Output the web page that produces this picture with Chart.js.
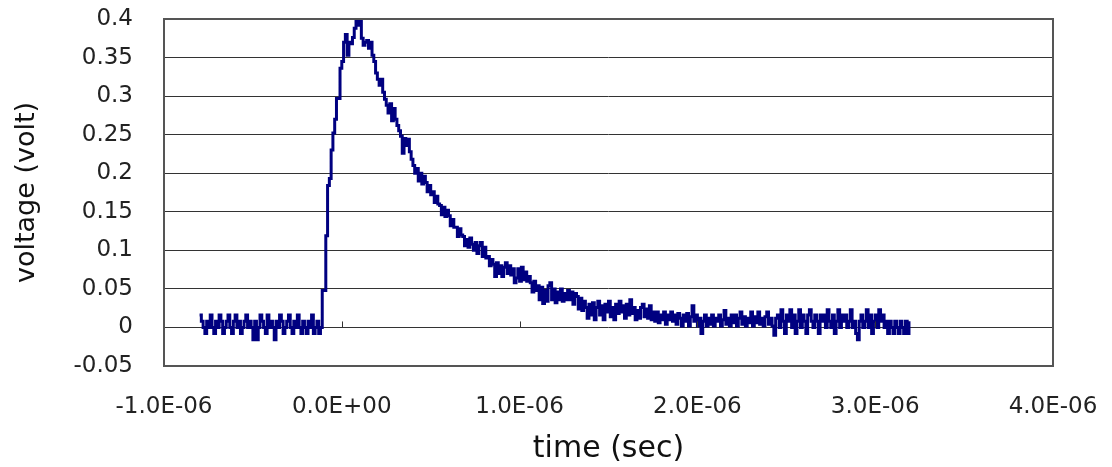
<!DOCTYPE html>
<html>
<head>
<meta charset="utf-8">
<script src="https://cdn.jsdelivr.net/npm/chart.js@4"></script>
<style>
  html, body { margin: 0; padding: 0; background: #fff; }
  canvas { display: block; }
</style>
</head>
<body>
<canvas id="myChart" width="1112" height="467"></canvas>
<script>
// sampling clock of the scope trace
const t0 = -0.8e-6;
const dt = 1e-8;

// voltage samples (volt)
const baseline = [
  0.016, 0.008, 0, -0.008, 0.008, 0, 0.016, 0, -0.008, 0.008,
  0, 0.016, 0.008, -0.008, 0, 0.008, 0.016, 0, -0.008, 0.008,
  0.016, 0, 0.008, -0.008, 0, 0.008, 0.016, 0, 0.008, 0,
  -0.016, 0.008, -0.016, 0, 0.016, 0.008, 0, -0.008, 0.016, 0,
  0.008, 0, -0.016, 0.008, 0, 0.016, 0.008, -0.008, 0, 0.008,
  0.016, 0, -0.008, 0.008, 0, 0.016, 0, -0.008, 0.008, 0,
  -0.008, 0.008, 0, 0.016, -0.008, 0, 0.008, -0.008, 0
];
const pulse = [
  0.048, 0.048, 0.119, 0.184, 0.193, 0.23, 0.252, 0.27, 0.297, 0.297,
  0.336, 0.345, 0.37, 0.38, 0.353, 0.37, 0.368, 0.376, 0.388, 0.4,
  0.392, 0.4, 0.375, 0.366, 0.37,
  0.372, 0.362, 0.37, 0.353, 0.345, 0.33, 0.322, 0.314,
  0.322, 0.305, 0.296, 0.288, 0.278, 0.29,
  0.268, 0.284, 0.27, 0.262, 0.255, 0.248,
  0.226, 0.245, 0.236, 0.244, 0.228, 0.218,
  0.21, 0.2, 0.206, 0.19, 0.2, 0.186, 0.196,
  0.188, 0.176, 0.184, 0.172, 0.176, 0.162, 0.17, 0.16,
  0.158, 0.146, 0.156, 0.144, 0.152, 0.145, 0.132, 0.14, 0.13,
  0.13, 0.118, 0.128, 0.12, 0.118, 0.106, 0.114, 0.104, 0.116, 0.108,
  0.1, 0.11
];
const decay = [
  0.096, 0.106, 0.11, 0.092, 0.104, 0.09, 0.092, 0.08, 0.088,
  0.082, 0.066, 0.084, 0.07, 0.08, 0.066, 0.078, 0.084, 0.07, 0.08, 0.068, 0.076,
  0.058, 0.064, 0.076, 0.06, 0.078, 0.062, 0.072, 0.06, 0.066,
  0.058, 0.046, 0.06, 0.048, 0.054,
  0.036, 0.052, 0.031, 0.048, 0.034, 0.054, 0.058, 0.036, 0.05, 0.032,
  0.046, 0.036, 0.05, 0.034, 0.044, 0.036, 0.048,
  0.036, 0.046, 0.03, 0.044, 0.04, 0.024, 0.038, 0.022, 0.034, 0.026,
  0.012, 0.03, 0.016, 0.032, 0.01, 0.026, 0.034, 0.016, 0.028, 0.01,
  0.03, 0.02, 0.034, 0.014, 0.026, 0.01, 0.03, 0.018, 0.034, 0.02,
  0.028, 0.012, 0.03, 0.016, 0.036, 0.018, 0.026, 0.01, 0.022
];
const tail = [
  0.012, 0.026, 0.03, 0.014, 0.024, 0.012, 0.028, 0.01, 0.02, 0.008,
  0.02, 0.006, 0.016, 0.01, 0.02, 0.004, 0.016, 0.01, 0.02, 0.008,
  0.016, 0.004, 0.018, 0.012, 0.002, 0.016, 0.008, 0.018, 0.002, 0.014,
  0.028, 0.008, 0.016, 0.002, 0.012, -0.008, 0.008, 0.016, 0.002, 0.012,
  0.004, 0.016, 0.002, 0.012, 0.008, 0.016, 0.002, 0.01, 0.022, 0.004,
  0.012, 0.002, 0.016, 0.006, 0.016, 0.002, 0.012, 0.02, 0.004, 0.014,
  0.002, 0.012, 0.006, 0.02, 0.002, 0.014, 0.006, 0.02, 0.004, 0.012,
  0.002, 0.014, 0.02, 0.004, 0.012, 0.002, -0.01, 0.012,
  0.016, 0, 0.023, 0.008, -0.008, 0.016, 0.008, 0.023, 0, 0.016,
  -0.008, 0.008, 0.023, 0, 0.016, 0.008, -0.008, 0.016, 0.023, 0.008,
  0, 0.016, 0.008, -0.008, 0.016, 0.008, 0.016, 0, 0.023, 0.008,
  0, 0.016, -0.008, 0.008, 0.023, 0, 0.016, 0.008, 0.016, 0,
  0.008, 0.023, 0, 0.008, -0.008, -0.016, 0.008, 0.016, 0, 0.008,
  0.023, 0, 0.016, -0.008, 0.008, 0.016, 0, 0.023, 0.008, 0.016,
  0, 0.008, -0.008, 0.008, 0, -0.008, 0.008, 0, -0.008, 0.008,
  0, -0.008, 0.008, -0.008, 0.008
];

// axis ticks
const xTicks = [-1e-6, 0, 1e-6, 2e-6, 3e-6, 4e-6];
const yTicks = [-0.05, 0, 0.05, 0.1, 0.15, 0.2, 0.25, 0.3, 0.35, 0.4];
const xTitle = 'time (sec)';
const yTitle = 'voltage (volt)';

const volts = baseline.concat(pulse, decay, tail);
const points = volts.map((v, i) => ({ x: t0 + i * dt, y: v }));

function sci(v) {
  if (Math.abs(v) < 1e-12) return '0.0E+00';
  const parts = v.toExponential(1).split('e');
  const e = parseInt(parts[1], 10);
  const es = (e < 0 ? '-' : '+') + String(Math.abs(e)).padStart(2, '0');
  return parts[0] + 'E' + es;
}

const tickFont = { family: 'DejaVu Sans', size: 23 };

const frame = {
  id: 'frame',
  afterDatasetsDraw(chart) {
    const { ctx, chartArea: a, scales } = chart;
    ctx.save();
    // small upward tick marks on the zero line
    const y0 = scales.y.getPixelForValue(0);
    ctx.strokeStyle = '#333';
    ctx.lineWidth = 1;
    xTicks.slice(1, -1).forEach((t) => {
      const x = Math.round(scales.x.getPixelForValue(t)) + 0.5;
      ctx.beginPath();
      ctx.moveTo(x, y0);
      ctx.lineTo(x, y0 - 6);
      ctx.stroke();
    });
    ctx.strokeStyle = '#555';
    ctx.lineWidth = 2;
    ctx.strokeRect(a.left, a.top, a.right - a.left, a.bottom - a.top);
    ctx.restore();
  },
};

new Chart(document.getElementById('myChart').getContext('2d'), {
  type: 'line',
  data: {
    datasets: [
      {
        data: points,
        borderColor: '#000080',
        borderWidth: 3,
        pointRadius: 0,
        stepped: true,
        fill: false,
      },
    ],
  },
  options: {
    responsive: false,
    animation: false,
    layout: { padding: { top: 19, right: 59, left: 0, bottom: 0 } },
    scales: {
      x: {
        type: 'linear',
        min: -1e-6,
        max: 4e-6,
        afterFit: (s) => { s.height = 101; },
        afterBuildTicks: (s) => { s.ticks = xTicks.map((v) => ({ value: v })); },
        // ticks pushed down through an invisible tick mark, not label padding
        grid: { color: 'transparent', tickColor: 'transparent', drawTicks: true, tickLength: 27 },
        border: { display: false },
        ticks: {
          font: tickFont,
          color: '#222',
          padding: 0,
          maxRotation: 0,
          callback: (v) => sci(v),
        },
        title: {
          display: true,
          text: xTitle,
          font: { family: 'DejaVu Sans', size: 30 },
          color: '#111',
          padding: { top: 0, bottom: 0 },
        },
      },
      y: {
        min: -0.05,
        max: 0.4,
        afterFit: (s) => { s.width = 164; },
        afterBuildTicks: (s) => { s.ticks = yTicks.map((v) => ({ value: v })); },
        grid: { color: '#333', lineWidth: 1, tickColor: 'transparent', drawTicks: true, tickLength: 31 },
        border: { display: false },
        ticks: {
          font: tickFont,
          color: '#222',
          padding: 0,
          callback: (v) => String(Number(v.toFixed(2))),
        },
        title: {
          display: true,
          text: yTitle,
          font: { family: 'DejaVu Sans', size: 27 },
          color: '#111',
          padding: { top: 11, bottom: 0 },
        },
      },
    },
    plugins: {
      legend: { display: false },
      tooltip: { enabled: false },
    },
  },
  plugins: [frame],
});
</script>
</body>
</html>
